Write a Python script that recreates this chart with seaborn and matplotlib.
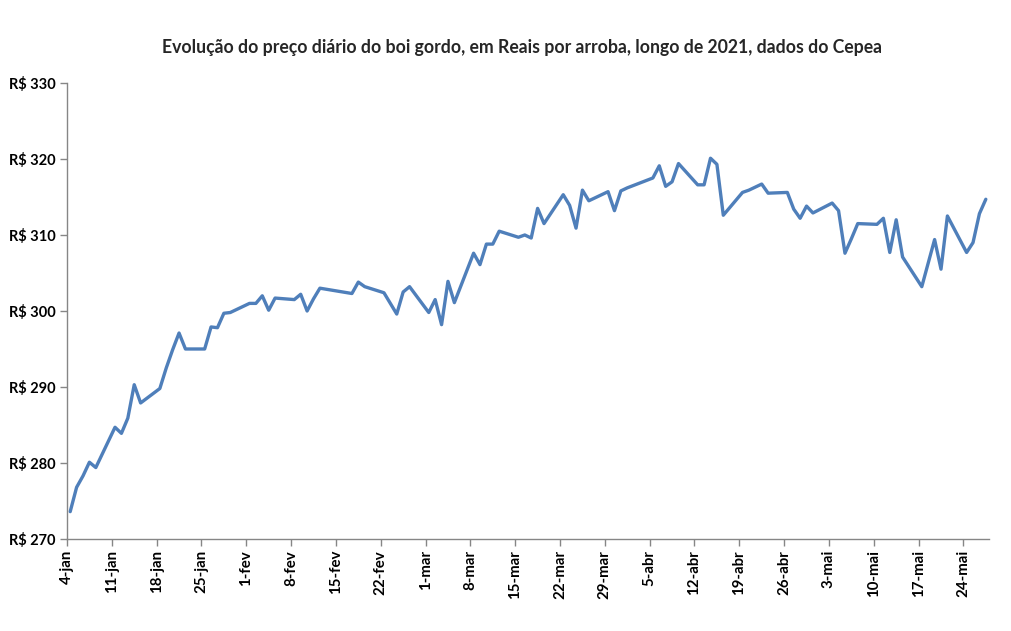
import numpy as np
import pandas as pd
import matplotlib
matplotlib.use('Agg')
import matplotlib.pyplot as plt
import matplotlib.dates as mdates
from matplotlib.ticker import FuncFormatter
import seaborn as sns

# dias úteis com cotação (Cepea) e preço em R$/arroba
datas = [
    '2021-01-04', '2021-01-05', '2021-01-06', '2021-01-07', '2021-01-08',
    '2021-01-11', '2021-01-12', '2021-01-13', '2021-01-14', '2021-01-15',
    '2021-01-18', '2021-01-19', '2021-01-20', '2021-01-21', '2021-01-22',
    '2021-01-25', '2021-01-26', '2021-01-27', '2021-01-28', '2021-01-29',
    '2021-02-01', '2021-02-02', '2021-02-03', '2021-02-04', '2021-02-05',
    '2021-02-08', '2021-02-09', '2021-02-10', '2021-02-11', '2021-02-12',
    '2021-02-17', '2021-02-18', '2021-02-19',
    '2021-02-22', '2021-02-23', '2021-02-24', '2021-02-25', '2021-02-26',
    '2021-03-01', '2021-03-02', '2021-03-03', '2021-03-04', '2021-03-05',
    '2021-03-08', '2021-03-09', '2021-03-10', '2021-03-11', '2021-03-12',
    '2021-03-15', '2021-03-16', '2021-03-17', '2021-03-18', '2021-03-19',
    '2021-03-22', '2021-03-23', '2021-03-24', '2021-03-25', '2021-03-26',
    '2021-03-29', '2021-03-30', '2021-03-31', '2021-04-01',
    '2021-04-05', '2021-04-06', '2021-04-07', '2021-04-08', '2021-04-09',
    '2021-04-12', '2021-04-13', '2021-04-14', '2021-04-15', '2021-04-16',
    '2021-04-19', '2021-04-20', '2021-04-22', '2021-04-23',
    '2021-04-26', '2021-04-27', '2021-04-28', '2021-04-29', '2021-04-30',
    '2021-05-03', '2021-05-04', '2021-05-05', '2021-05-06', '2021-05-07',
    '2021-05-10', '2021-05-11', '2021-05-12', '2021-05-13', '2021-05-14',
    '2021-05-17', '2021-05-18', '2021-05-19', '2021-05-20', '2021-05-21',
    '2021-05-24', '2021-05-25', '2021-05-26', '2021-05-27',
]
precos = [
    273.6, 276.8, 278.3, 280.1, 279.4,
    284.7, 283.9, 285.9, 290.3, 287.9,
    289.8, 292.5, 294.9, 297.1, 295.0,
    295.0, 297.9, 297.8, 299.7, 299.8,
    301.0, 301.0, 302.0, 300.1, 301.7,
    301.5, 302.2, 300.0, 301.6, 303.0,
    302.3, 303.8, 303.2,
    302.4, 301.0, 299.6, 302.5, 303.2,
    299.8, 301.5, 298.2, 303.9, 301.1,
    307.6, 306.1, 308.8, 308.8, 310.5,
    309.7, 310.0, 309.6, 313.5, 311.5,
    315.3, 313.9, 310.9, 315.9, 314.5,
    315.7, 313.2, 315.8, 316.2,
    317.5, 319.1, 316.4, 317.0, 319.4,
    316.6, 316.6, 320.1, 319.3, 312.6,
    315.6, 315.9, 316.7, 315.5,
    315.6, 313.4, 312.2, 313.8, 312.9,
    314.2, 313.2, 307.6, 309.5, 311.5,
    311.4, 312.2, 307.7, 312.0, 307.1,
    303.2, 306.3, 309.4, 305.5, 312.5,
    307.7, 309.0, 312.8, 314.7,
]
meses = ['jan', 'fev', 'mar', 'abr', 'mai']
y_ticks = [270, 280, 290, 300, 310, 320, 330]

df = pd.DataFrame({'data': pd.to_datetime(datas), 'preco': precos})
# como no Excel, cada ponto fica no meio do seu dia
df['data'] = df['data'] + pd.Timedelta(hours=12)

sns.set_style('white')
plt.rcParams['font.family'] = ['Lato', 'DejaVu Sans']

fig = plt.figure(figsize=(10.12, 6.31), dpi=100)
ax = fig.add_axes([0.0662, 0.1458, 0.9111, 0.7227])

sns.lineplot(data=df, x='data', y='preco', ax=ax, color='#4F7FBA', linewidth=2.4)

ax.set_xlim(pd.Timestamp('2021-01-04'), pd.Timestamp('2021-05-28'))
ax.set_ylim(270, 330)
ax.set_yticks(y_ticks)
ax.yaxis.set_major_formatter(FuncFormatter(lambda v, p: 'R\\$ %d' % v))

semanas = pd.date_range('2021-01-04', '2021-05-24', freq='7D')
ax.set_xticks(semanas)
ax.set_xticklabels(['%d-%s' % (d.day, meses[d.month - 1]) for d in semanas],
                   rotation=90, fontweight='bold', fontsize=10.8)
for t in ax.get_yticklabels():
    t.set_fontweight('bold')
    t.set_fontsize(10.5)

for s in ['top', 'right']:
    ax.spines[s].set_visible(False)
for s in ['left', 'bottom']:
    ax.spines[s].set_color('#868686')
    ax.spines[s].set_linewidth(1)

ax.tick_params(axis='both', which='major', direction='out', length=5,
               width=1, color='#868686', labelcolor='black', pad=3,
               left=True, bottom=True)
ax.set_xlabel('')
ax.set_ylabel('')
ax.grid(False)

fig.text(0.5155, 0.925, 'Evolução do preço diário do boi gordo, em Reais por arroba, longo de 2021, dados do Cepea',
         ha='center', va='center', fontsize=12.7, fontweight='bold')

fig.savefig('out.png', dpi=100, facecolor='white')
